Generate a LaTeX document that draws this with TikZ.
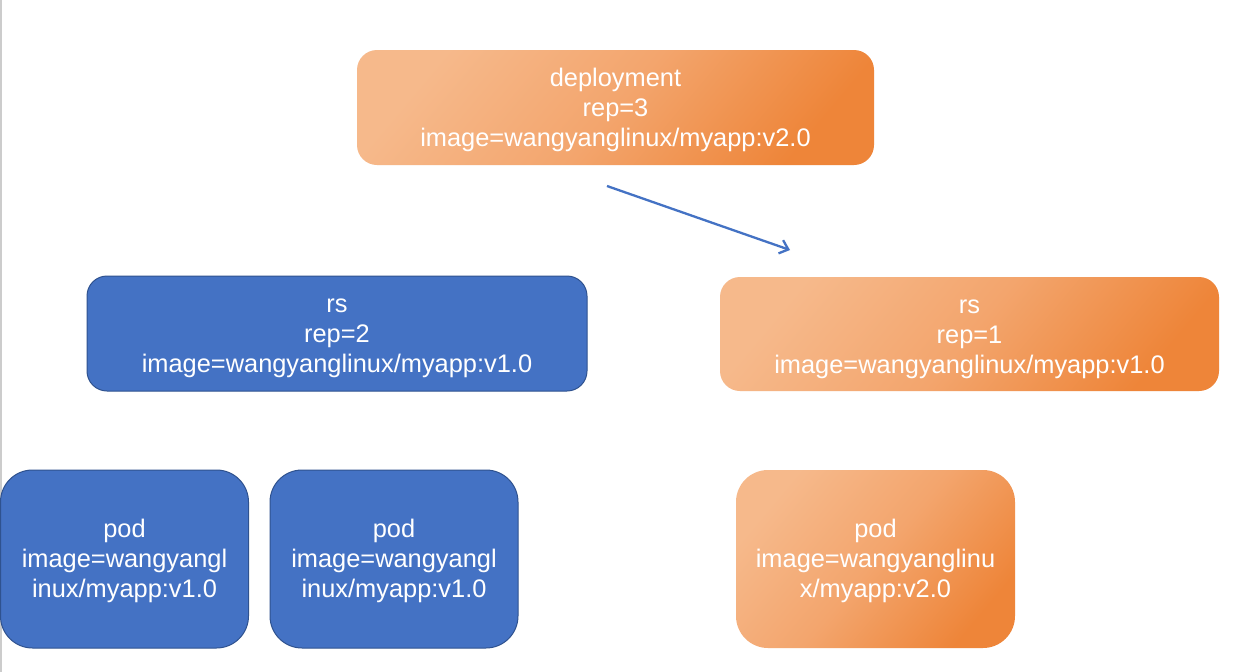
\documentclass[tikz,border=0pt]{standalone}
\usepackage{fontspec}
\setmainfont{Liberation Sans}
\usetikzlibrary{arrows.meta}
\definecolor{blueF}{HTML}{4472C4}
\definecolor{blueD}{HTML}{2F528F}
\definecolor{orL}{HTML}{F6B98B}
\definecolor{orM}{HTML}{F3A56D}
\definecolor{orD}{HTML}{EE8539}
\definecolor{edgegray}{HTML}{CCCCCC}
\begin{document}
\begin{tikzpicture}[x=1pt,y=-1pt,
  txt/.style={inner sep=0pt, align=center, text=white,
    font=\fontsize{25.4}{30}\selectfont},
  bluebox/.style={fill=blueF, draw=blueD, line width=1pt, inner sep=0pt},
  orangebox/.style={top color=orL, bottom color=orD, middle color=orM, shading angle=50, inner sep=0pt},
  wide/.style={rounded corners=20pt},
  tall/.style={rounded corners=32pt, minimum width=248pt, minimum height=178pt},
  arrowline/.style={draw=blueF, line width=2.3pt, -{Straight Barb[length=8pt,width=14pt]}}]
\useasboundingbox (0,0) rectangle (1245,672);
\fill[white] (0,0) rectangle (1245,672);
\draw[edgegray, line width=1.5pt] (0.75,0) -- (0.75,672);

\node[orangebox, wide, minimum width=517pt, minimum height=115pt] (dep) at (615.5,107.5) {};
\node[txt, yshift=-2pt] (depT) at (dep.center)
  {deployment\\rep=3\\image=wangyanglinux/myapp:v2.0};
\node[bluebox, wide, minimum width=500pt, minimum height=115pt] (rs1) at (337,333.5) {};
\node[txt, yshift=-5pt] (rs1T) at (rs1.center)
  {rs\\rep=2\\image=wangyanglinux/myapp:v1.0};
\node[orangebox, wide, minimum width=499pt, minimum height=114pt] (rs2) at (969.5,334) {};
\node[txt, yshift=-5pt] (rs2T) at (rs2.center)
  {rs\\rep=1\\image=wangyanglinux/myapp:v1.0};

\node[bluebox, tall] (pod1) at (124.5,559) {};
\node[txt, yshift=-2pt] (pod1T) at (pod1.center)
  {pod\\image=wangyangl\\inux/myapp:v1.0};
\node[bluebox, tall] (pod2) at (394,559) {};
\node[txt, yshift=-2pt] (pod2T) at (pod2.center)
  {pod\\image=wangyangl\\inux/myapp:v1.0};
\node[orangebox, tall, minimum width=279pt] (pod3) at (875.5,559) {};
\node[txt, yshift=-2pt] (pod3T) at (pod3.center)
  {pod\\image=wangyanglinu\\x/myapp:v2.0};

\coordinate (a1) at (607,186);
\coordinate (a2) at (790,250);
\draw[arrowline] (a1) -- (a2);
\end{tikzpicture}
\end{document}
